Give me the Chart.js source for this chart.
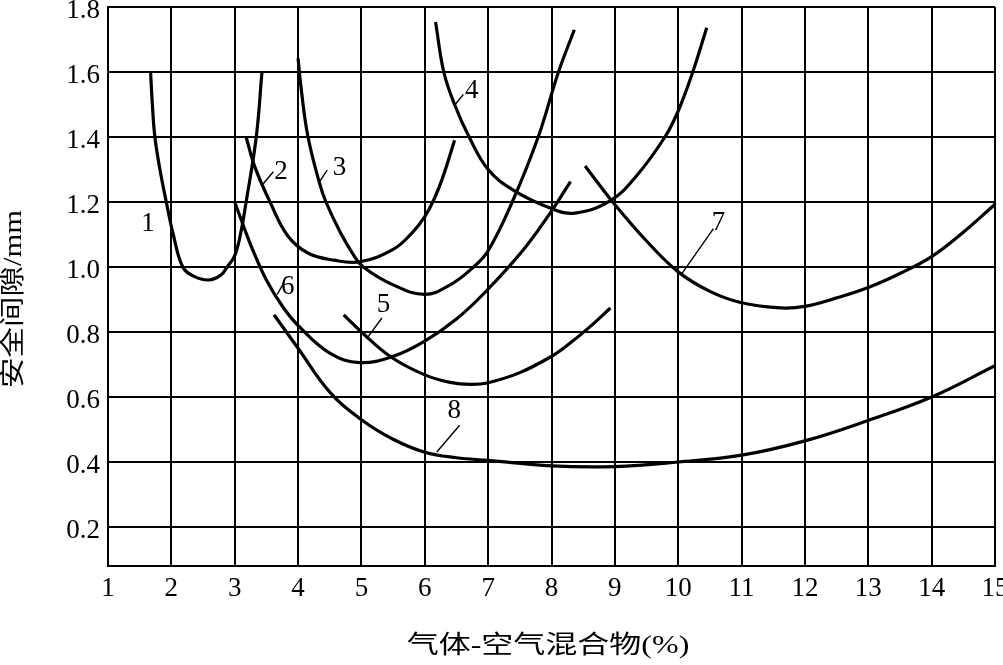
<!DOCTYPE html>
<html>
<head>
<meta charset="utf-8">
<script src="https://cdn.jsdelivr.net/npm/chart.js@4.4.0/dist/chart.umd.min.js"></script>
<style>
  html, body { margin: 0; padding: 0; background: #fff; }
  #wrap { width: 1003px; height: 665px; }
</style>
</head>
<body>
<div id="wrap"><canvas id="chart" width="1003" height="665"></canvas></div>
<script>
// DATA (x = gas-air mixture %, y = safe gap mm)

const xTicks = [1,2,3,4,5,6,7,8,9,10,11,12,13,14,15];
const yTicks = [0.2,0.4,0.6,0.8,1.0,1.2,1.4,1.6,1.8];

const curve1 = [[1.672,1.60],[1.70,1.50],[1.74,1.40],[1.82,1.30],[1.92,1.20],[2.03,1.10],[2.18,1.00],
  [2.35,0.972],[2.59,0.96],[2.78,0.975],[2.88,1.00],[3.00,1.035],[3.09,1.10],[3.18,1.20],[3.34,1.40],[3.43,1.60]];
const curve2 = [[3.18,1.40],[3.316,1.309],[3.562,1.198],[3.836,1.096],[4.154,1.043],[4.565,1.021],[4.975,1.016],
  [5.50,1.054],[5.80,1.105],[6.00,1.155],[6.15,1.21],[6.30,1.285],[6.47,1.39]];
const curve3 = [[4.00,1.642],[4.05,1.547],[4.154,1.403],[4.334,1.261],[4.44,1.20],[4.666,1.107],[4.872,1.038],
  [5.03,1.00],[5.50,0.945],[6.00,0.916],[6.40,0.945],[6.77,1.00],[7.00,1.05],[7.38,1.20],[7.79,1.40],[8.11,1.60],[8.36,1.73]];
const curve4 = [[6.17,1.754],[6.30,1.60],[6.47,1.50],[6.70,1.40],[7.00,1.30],[7.41,1.235],[8.00,1.18],
  [8.37,1.166],[8.93,1.204],[9.34,1.28],[9.79,1.40],[10.00,1.48],[10.23,1.60],[10.45,1.736]];
const curve5 = [[4.72,0.853],[5.00,0.80],[5.46,0.724],[6.00,0.668],[6.40,0.645],[6.72,0.639],[7.00,0.644],
  [7.50,0.675],[8.00,0.725],[8.27,0.762],[8.60,0.815],[8.93,0.874]];
const curve6 = [[3.00,1.20],[3.15,1.12],[3.29,1.05],[3.50,0.96],[3.75,0.88],[4.00,0.82],[4.50,0.735],
  [4.97,0.706],[5.50,0.725],[6.00,0.772],[6.50,0.84],[6.94,0.92],[7.56,1.054],[8.00,1.172],[8.30,1.263]];
const curve7 = [[8.53,1.311],[8.95,1.204],[9.50,1.08],[10.00,0.985],[10.50,0.925],[11.00,0.89],[11.62,0.874],
  [12.00,0.879],[12.50,0.905],[13.00,0.937],[13.50,0.98],[14.00,1.032],[14.50,1.107],[15.00,1.193]];
const curve8 = [[3.62,0.853],[4.00,0.75],[4.50,0.615],[5.00,0.53],[5.50,0.47],[6.00,0.43],[6.50,0.413],
  [7.00,0.405],[8.00,0.388],[9.00,0.386],[10.00,0.40],[11.00,0.421],[12.00,0.465],[13.00,0.528],[14.00,0.60],[15.00,0.696]];

const curves = [curve1, curve2, curve3, curve4, curve5, curve6, curve7, curve8];
const curveNames = ['1','2','3','4','5','6','7','8'];

// where each number sits, with its little pointer line (data units)
const notes = [
  { text: '1', at: [1.63, 1.134] },
  { text: '2', at: [3.73, 1.293], leader: [3.45, 1.256, 3.61, 1.293] },
  { text: '3', at: [4.654, 1.306], leader: [4.334, 1.261, 4.46, 1.298] },
  { text: '4', at: [6.74, 1.542], leader: [6.48, 1.50, 6.61, 1.531] },
  { text: '5', at: [5.35, 0.884], leader: [5.081, 0.779, 5.323, 0.843] },
  { text: '6', at: [3.836, 0.94], leader: [3.672, 0.916, 3.77, 0.95] },
  { text: '7', at: [10.637, 1.137], leader: [10.044, 0.976, 10.556, 1.118] },
  { text: '8', at: [6.467, 0.557], leader: [6.19, 0.431, 6.55, 0.513] }
];

const xTitle = '气体-空气混合物(%)';
const yTitle = '安全间隙/mm';

const SERIF = '"Liberation Serif", "Noto Sans CJK SC", serif';

// draws curve numbers and the two stretched axis titles
const overlay = {
  id: 'overlay',
  afterDraw(chart) {
    const ctx = chart.ctx, xs = chart.scales.x, ys = chart.scales.y;
    ctx.save();
    ctx.fillStyle = '#000';
    ctx.strokeStyle = '#000';
    ctx.lineWidth = 1.4;
    ctx.font = '27px ' + SERIF;
    ctx.textAlign = 'center';
    ctx.textBaseline = 'middle';
    notes.forEach(n => {
      ctx.fillText(n.text, xs.getPixelForValue(n.at[0]), ys.getPixelForValue(n.at[1]));
      if (n.leader) {
        const l = n.leader;
        ctx.beginPath();
        ctx.moveTo(xs.getPixelForValue(l[0]), ys.getPixelForValue(l[1]));
        ctx.lineTo(xs.getPixelForValue(l[2]), ys.getPixelForValue(l[3]));
        ctx.stroke();
      }
    });

    // x title
    ctx.font = '25px ' + SERIF;
    ctx.save();
    ctx.translate(548, 646);
    ctx.scale(1.28, 1);
    ctx.fillText(xTitle, 0, 0);
    ctx.restore();

    // y title
    ctx.save();
    ctx.translate(14, 299);
    ctx.rotate(-Math.PI / 2);
    ctx.scale(1.22, 1);
    ctx.fillText(yTitle, 0, 0);
    ctx.restore();

    ctx.restore();
  }
};

const ctx = document.getElementById('chart');

const myChart = new Chart(ctx, {
  type: 'scatter',
  data: {
    datasets: curves.map((c, i) => ({
      label: curveNames[i],
      data: c.map(p => ({ x: p[0], y: p[1] })),
      showLine: true,
      borderColor: '#000',
      borderWidth: 3.2,
      pointRadius: 0,
      tension: 0.4,
      fill: false
    }))
  },
  options: {
    responsive: false,
    animation: false,
    devicePixelRatio: 1,
    layout: { padding: { left: 0, right: 8, top: 7, bottom: 0 } },
    plugins: {
      legend: { display: false },
      tooltip: { enabled: false }
    },
    scales: {
      x: {
        type: 'linear',
        min: 1,
        max: 15,
        afterBuildTicks: s => { s.ticks = xTicks.map(v => ({ value: v })); },
        afterFit: s => { s.height = 99; s.paddingLeft = 0; s.paddingRight = 0; },
        ticks: {
          color: '#000',
          font: { family: SERIF, size: 27 },
          padding: 7,
          maxRotation: 0,
          autoSkip: false,
          callback: v => String(v)
        },
        grid: { color: '#000', lineWidth: 2, drawTicks: false },
        border: { color: '#000', width: 2 }
      },
      y: {
        type: 'linear',
        min: 0.08,
        max: 1.8,
        afterBuildTicks: s => { s.ticks = yTicks.map(v => ({ value: v })); },
        afterFit: s => { s.width = 108; s.paddingTop = 0; s.paddingBottom = 0; },
        ticks: {
          color: '#000',
          font: { family: SERIF, size: 27 },
          padding: 8,
          labelOffset: 4,
          autoSkip: false,
          callback: v => Number(v).toFixed(1)
        },
        grid: { color: '#000', lineWidth: 2, drawTicks: false },
        border: { color: '#000', width: 2 }
      }
    }
  },
  plugins: [overlay]
});
</script>
</body>
</html>
